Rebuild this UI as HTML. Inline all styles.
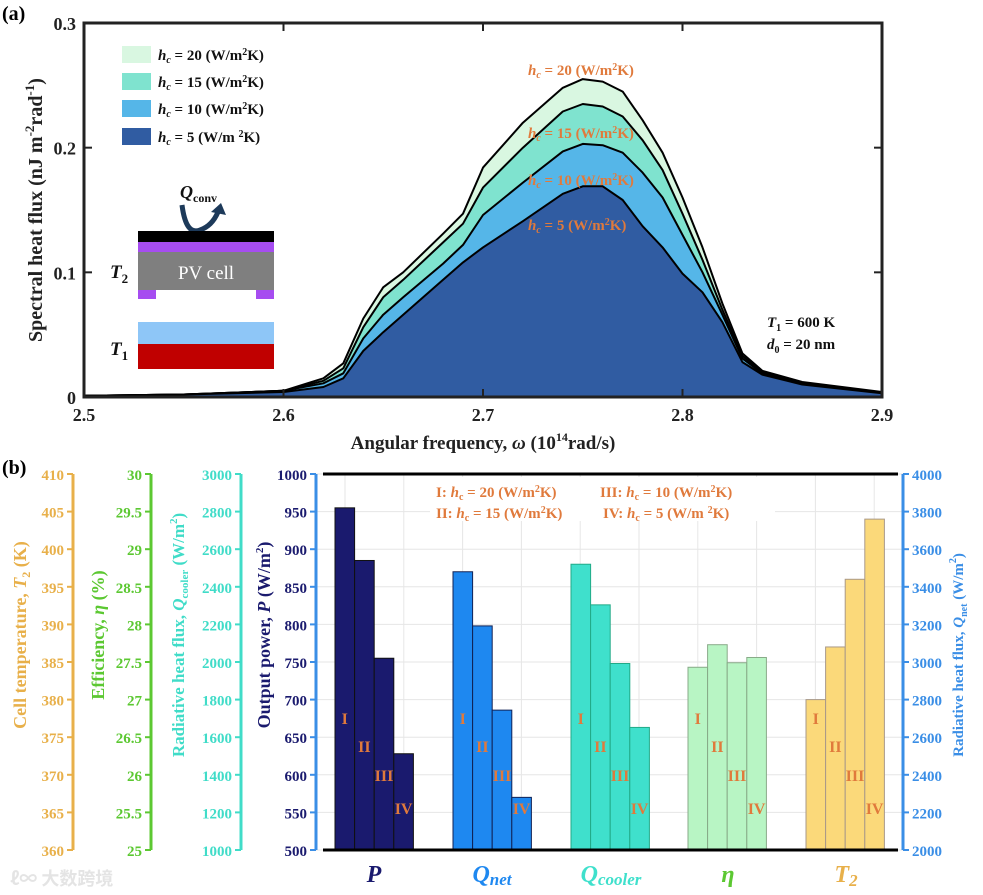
<!DOCTYPE html>
<html><head><meta charset="utf-8">
<style>
html,body{margin:0;padding:0;background:#fff;}
svg{display:block;font-family:"Liberation Serif","Noto Serif CJK SC",serif;font-weight:bold;}
</style></head>
<body>
<svg id="fig" width="983" height="895" viewBox="0 0 983 895" xmlns="http://www.w3.org/2000/svg">
<text x="2" y="20" font-size="20">(a)</text>
<text x="2" y="474" font-size="20">(b)</text>
<g id="topchart"></g>
<g id="botchart"></g>
<text x="10" y="885" font-size="18" fill="#e4e4e4" font-family="'Noto Sans CJK SC',sans-serif">ℓ∞ 大数跨境</text>
</svg>
<script>
// ---------- Panel (a) data ----------
const omega = [2.5,2.55,2.6,2.62,2.63,2.64,2.65,2.66,2.68,2.69,2.70,2.72,2.74,2.75,2.76,2.77,2.78,2.79,2.80,2.81,2.82,2.83,2.84,2.86,2.9];
const flux5  = [0.001,0.002,0.004,0.008,0.015,0.037,0.052,0.066,0.094,0.108,0.12,0.141,0.163,0.169,0.169,0.158,0.137,0.12,0.099,0.084,0.06,0.028,0.018,0.010,0.003];
const flux10 = [0.001,0.002,0.005,0.011,0.019,0.047,0.066,0.080,0.107,0.122,0.146,0.172,0.197,0.203,0.202,0.196,0.18,0.16,0.13,0.1,0.066,0.031,0.019,0.011,0.003];
const flux15 = [0.001,0.002,0.005,0.013,0.023,0.056,0.080,0.094,0.124,0.139,0.168,0.20,0.229,0.235,0.233,0.225,0.206,0.182,0.147,0.11,0.07,0.033,0.02,0.011,0.003];
const flux20 = [0.001,0.002,0.005,0.015,0.027,0.063,0.088,0.100,0.131,0.147,0.184,0.22,0.248,0.255,0.253,0.245,0.222,0.196,0.16,0.12,0.075,0.035,0.021,0.012,0.004];
const xTicks = [2.5,2.6,2.7,2.8,2.9];
const yTicks = [0,0.1,0.2,0.3];

// ---------- Panel (b) data ----------
const categories = ["P","Qnet","Qcooler","eta","T2"];
const caseLabels = ["I","II","III","IV"];
const powerP   = [955,885,755,628];
const qNet     = [3480,3192,2744,2280];
const qCooler  = [2520,2304,1992,1652];
const effEta   = [27.43,27.73,27.49,27.56];
const tempT2   = [380,387,396,404];
const pTicks   = [500,550,600,650,700,750,800,850,900,950,1000];
const qnetTicks= [2000,2200,2400,2600,2800,3000,3200,3400,3600,3800,4000];
const qcTicks  = [1000,1200,1400,1600,1800,2000,2200,2400,2600,2800,3000];
const etaTicks = ["25","25.5","26","26.5","27","27.5","28","28.5","29","29.5","30"];
const t2Ticks  = [360,365,370,375,380,385,390,395,400,405,410];

const NS="http://www.w3.org/2000/svg";
function mk(tag, attrs, parent, txt){
  const e=document.createElementNS(NS,tag);
  for(const k in attrs) e.setAttribute(k,attrs[k]);
  if(txt!==undefined) e.textContent=txt;
  parent.appendChild(e); return e;
}
const topG=document.getElementById('topchart');
const botG=document.getElementById('botchart');

// ===== Panel (a) =====
const L=84,R=882,T=23,B=397;
const xs=v=>L+(v-2.5)/0.4*(R-L);
const ys=v=>B-v/0.3*(B-T);
const series=[[flux20,"#d9f7e1"],[flux15,"#7fe3cf"],[flux10,"#55b6e8"],[flux5,"#305ca2"]];
const snames=['area-hc20','area-hc15','area-hc10','area-hc5'];
series.forEach((s,i)=>{
  let d="M"+xs(omega[0])+","+ys(0);
  omega.forEach((w,j)=>{d+=" L"+xs(w).toFixed(1)+","+ys(s[0][j]).toFixed(1);});
  d+=" L"+xs(omega[omega.length-1])+","+ys(0)+" Z";
  const a=mk('path',{d:d,fill:s[1],stroke:'none'},topG);
  
  
  let d2="";
  omega.forEach((w,j)=>{d2+=(j?" L":"M")+xs(w).toFixed(1)+","+ys(s[0][j]).toFixed(1);});
  const l=mk('path',{d:d2,fill:'none',stroke:'#000','stroke-width':2,'stroke-linejoin':'round'},topG);
  
  
});
const frame=mk('rect',{x:L,y:T,width:R-L,height:B-T,fill:'none',stroke:'#222','stroke-width':3},topG);


xTicks.forEach(v=>{
  const x=xs(v);
  mk('line',{x1:x,y1:B,x2:x,y2:B-8,stroke:'#222','stroke-width':2},topG);
  mk('line',{x1:x,y1:T,x2:x,y2:T+8,stroke:'#222','stroke-width':2},topG);
  const t=mk('text',{x:x,y:B+24,'font-size':18,'text-anchor':'middle',fill:'#222'},topG,v.toFixed(1));
  
  
});
yTicks.forEach(v=>{
  const y=ys(v);
  mk('line',{x1:L,y1:y,x2:L+8,y2:y,stroke:'#222','stroke-width':2},topG);
  mk('line',{x1:R,y1:y,x2:R-8,y2:y,stroke:'#222','stroke-width':2},topG);
  const t=mk('text',{x:L-8,y:y+7,'font-size':18,'text-anchor':'end',fill:'#222'},topG,v===0?"0":v.toFixed(1));
  
  
});

topG.insertAdjacentHTML('beforeend',`
<text x="483" y="449" font-size="19" text-anchor="middle" fill="#222">Angular frequency, <tspan font-style="italic">ω</tspan> (10<tspan font-size="12" dy="-8">14</tspan><tspan dy="8">rad/s)</tspan></text>
<text transform="translate(42,210) rotate(-90)" font-size="20" text-anchor="middle" fill="#222">Spectral heat flux (nJ m<tspan font-size="13" dy="-8">-2</tspan><tspan dy="8">rad</tspan><tspan font-size="13" dy="-8">-1</tspan><tspan dy="8">)</tspan></text>
<g font-size="15" fill="#111">
<rect x="122" y="46" width="29" height="17" fill="#d9f7e1"/><text x="158" y="60"><tspan font-style="italic">h<tspan font-size="10" dy="3">c</tspan></tspan><tspan dy="-3"> = 20 (W/m</tspan><tspan font-size="10" dy="-5">2</tspan><tspan dy="5">K)</tspan></text>
<rect x="122" y="73" width="29" height="17" fill="#7fe3cf"/><text x="158" y="87"><tspan font-style="italic">h<tspan font-size="10" dy="3">c</tspan></tspan><tspan dy="-3"> = 15 (W/m</tspan><tspan font-size="10" dy="-5">2</tspan><tspan dy="5">K)</tspan></text>
<rect x="122" y="100" width="29" height="17" fill="#55b6e8"/><text x="158" y="114"><tspan font-style="italic">h<tspan font-size="10" dy="3">c</tspan></tspan><tspan dy="-3"> = 10 (W/m</tspan><tspan font-size="10" dy="-5">2</tspan><tspan dy="5">K)</tspan></text>
<rect x="122" y="128" width="29" height="17" fill="#305ca2"/><text x="158" y="142"><tspan font-style="italic">h<tspan font-size="10" dy="3">c</tspan></tspan><tspan dy="-3"> = 5 (W/m  </tspan><tspan font-size="10" dy="-5">2</tspan><tspan dy="5">K)</tspan></text>
</g>
<g>
<text x="180" y="198" font-size="18" font-style="italic" fill="#111">Q<tspan font-size="12" font-style="normal" dy="4">conv</tspan></text>
<path d="M182,205 Q186,236 200,230 Q212,226 218,212" fill="none" stroke="#1d3a5a" stroke-width="5"/>
<path d="M211,212 L221,203 L226,215 Z" fill="#1d3a5a"/>
<rect x="138" y="231" width="136" height="11" fill="#000"/>
<rect x="138" y="242" width="136" height="10" fill="#a64df0"/>
<rect x="138" y="252" width="136" height="38" fill="#7f7f7f"/>
<text x="206" y="279" font-size="19" font-weight="normal" fill="#fff" text-anchor="middle">PV cell</text>
<rect x="138" y="290" width="18" height="9" fill="#a64df0"/>
<rect x="256" y="290" width="18" height="9" fill="#a64df0"/>
<text x="110" y="278" font-size="19" font-style="italic" fill="#111">T<tspan font-size="13" font-style="normal" dy="5">2</tspan></text>
<rect x="138" y="322" width="136" height="22" fill="#8ec6f7"/>
<rect x="138" y="344" width="136" height="25" fill="#c00000"/>
<text x="110" y="355" font-size="19" font-style="italic" fill="#111">T<tspan font-size="13" font-style="normal" dy="5">1</tspan></text>
</g>
<g font-size="15" fill="#e07a3c">
<text x="528" y="75"><tspan font-style="italic">h<tspan font-size="10" dy="3">c</tspan></tspan><tspan dy="-3"> = 20 (W/m</tspan><tspan font-size="10" dy="-5">2</tspan><tspan dy="5">K)</tspan></text>
<text x="528" y="138"><tspan font-style="italic">h<tspan font-size="10" dy="3">c</tspan></tspan><tspan dy="-3"> = 15 (W/m</tspan><tspan font-size="10" dy="-5">2</tspan><tspan dy="5">K)</tspan></text>
<text x="528" y="185"><tspan font-style="italic">h<tspan font-size="10" dy="3">c</tspan></tspan><tspan dy="-3"> = 10 (W/m</tspan><tspan font-size="10" dy="-5">2</tspan><tspan dy="5">K)</tspan></text>
<text x="528" y="230"><tspan font-style="italic">h<tspan font-size="10" dy="3">c</tspan></tspan><tspan dy="-3"> = 5 (W/m</tspan><tspan font-size="10" dy="-5">2</tspan><tspan dy="5">K)</tspan></text>
</g>
<g font-size="15" fill="#111">
<text x="767" y="327"><tspan font-style="italic">T</tspan><tspan font-size="10" dy="4">1</tspan><tspan dy="-4"> = 600 K</tspan></text>
<text x="767" y="349"><tspan font-style="italic">d</tspan><tspan font-size="10" dy="4">0</tspan><tspan dy="-4"> = 20 nm</tspan></text>
</g>`);

// ===== Panel (b) =====
const PL=316,PR=903,PT=474,PB=850;
const yP=v=>PB-(v-500)/500*(PB-PT);
const yQn=v=>PB-(v-2000)/2000*(PB-PT);
const yQc=v=>PB-(v-1000)/2000*(PB-PT);
const yE=v=>PB-(v-25)/5*(PB-PT);
const yT=v=>PB-(v-360)/50*(PB-PT);
for(let i=0;i<=10;i++){
  const y=PT+i*(PB-PT)/10;
  mk('line',{x1:PL,y1:y,x2:PR,y2:y,stroke:'#e6e6e6','stroke-width':1},botG);
}
for(let i=0;i<10;i++){
  const x=345+i*58.8;
  mk('line',{x1:x,y1:PT,x2:x,y2:PB,stroke:'#e6e6e6','stroke-width':1},botG);
}
mk('rect',{x:430,y:477,width:345,height:44,fill:'#fff'},botG);
const groupStart=[335,453,571,688,806];
const bw=19.6;
const groups=[
  [powerP,yP,'#1a1a6e','#111'],
  [qNet,yQn,'#1e88f0','#125'],
  [qCooler,yQc,'#3fe0cc','#2a8'],
  [effEta,yE,'#b8f5c4','#8a8'],
  [tempT2,yT,'#fbd97a','#a98']
];
const labelY=[724,752,781,814];
groups.forEach((g,gi)=>{
  g[0].forEach((v,i)=>{
    const x=groupStart[gi]+i*bw;
    const y=g[1](v);
    const r=mk('rect',{x:x,y:y,width:bw,height:PB-y,fill:g[2],stroke:g[3],'stroke-width':1},botG);
    
    
    const t=mk('text',{x:x+bw/2,y:labelY[i],'font-size':16,'text-anchor':'middle',fill:'#e07a3c'},botG,caseLabels[i]);
    
    
  });
});
mk('line',{x1:323,y1:PT,x2:898,y2:PT,stroke:'#000','stroke-width':3},botG);
mk('line',{x1:323,y1:PB,x2:898,y2:PB,stroke:'#000','stroke-width':3},botG);
function axis(x,ticks,scale,color,lblColor,side,name){
  const g=mk('g',{},botG);
  
  
  mk('line',{x1:x,y1:PT,x2:x,y2:PB,stroke:color,'stroke-width':3},g);
  ticks.forEach(t=>{
    const y=scale(parseFloat(t));
    const d=side==='left'?-6:6;
    mk('line',{x1:x,y1:y,x2:x+d,y2:y,stroke:color,'stroke-width':2},g);
    mk('text',{x:side==='left'?x-9:x+9,y:y+6,'font-size':15,'text-anchor':side==='left'?'end':'start',fill:lblColor},g,String(t));
  });
}
axis(73,t2Ticks,yT,'#e8b04a','#e8b04a','left','t2-axis');
axis(151,etaTicks,yE,'#5cc832','#5cc832','left','eta-axis');
axis(241,qcTicks,yQc,'#40dcc8','#40dcc8','left','qcooler-axis');
axis(PL,pTicks,yP,'#3a8ee6','#1a1a6e','left','power-axis');
axis(PR,qnetTicks,yQn,'#3a8ee6','#3a8ee6','right','qnet-axis');
botG.insertAdjacentHTML('beforeend',`
<text transform="translate(26,635) rotate(-90)" font-size="18" text-anchor="middle" fill="#e8b04a">Cell temperature, <tspan font-style="italic">T</tspan><tspan font-size="12" dy="4">2</tspan><tspan dy="-4"> (K)</tspan></text>
<text transform="translate(104,635) rotate(-90)" font-size="18" text-anchor="middle" fill="#5cc832">Efficiency, <tspan font-style="italic">η</tspan> (%)</text>
<text transform="translate(184,635) rotate(-90)" font-size="17" text-anchor="middle" fill="#40dcc8">Radiative heat flux, <tspan font-style="italic">Q</tspan><tspan font-size="11" dy="4">cooler</tspan><tspan dy="-4"> (W/m</tspan><tspan font-size="11" dy="-7">2</tspan><tspan dy="7">)</tspan></text>
<text transform="translate(270,635) rotate(-90)" font-size="18" text-anchor="middle" fill="#1a1a6e">Output power, <tspan font-style="italic">P</tspan> (W/m<tspan font-size="11" dy="-7">2</tspan><tspan dy="7">)</tspan></text>
<text transform="translate(963,655) rotate(-90)" font-size="15" text-anchor="middle" fill="#3a8ee6">Radiative heat flux, <tspan font-style="italic">Q</tspan><tspan font-size="10" dy="4">net</tspan><tspan dy="-4"> (W/m</tspan><tspan font-size="10" dy="-7">2</tspan><tspan dy="7">)</tspan></text>
<g font-size="15" fill="#e07a3c">
<text x="436" y="497">I: <tspan font-style="italic">h</tspan><tspan font-size="10" dy="3">c</tspan><tspan dy="-3"> = 20 (W/m</tspan><tspan font-size="10" dy="-5">2</tspan><tspan dy="5">K)</tspan></text>
<text x="600" y="497">III: <tspan font-style="italic">h</tspan><tspan font-size="10" dy="3">c</tspan><tspan dy="-3"> = 10 (W/m</tspan><tspan font-size="10" dy="-5">2</tspan><tspan dy="5">K)</tspan></text>
<text x="436" y="518">II: <tspan font-style="italic">h</tspan><tspan font-size="10" dy="3">c</tspan><tspan dy="-3"> = 15 (W/m</tspan><tspan font-size="10" dy="-5">2</tspan><tspan dy="5">K)</tspan></text>
<text x="603" y="518">IV: <tspan font-style="italic">h</tspan><tspan font-size="10" dy="3">c</tspan><tspan dy="-3"> = 5 (W/m </tspan><tspan font-size="10" dy="-5">2</tspan><tspan dy="5">K)</tspan></text>
</g>
<g font-size="24" font-style="italic" text-anchor="middle">
<text x="374" y="882" fill="#1a1a6e">P</text>
<text x="492" y="882" fill="#1e88f0">Q<tspan font-size="17" dy="3">net</tspan></text>
<text x="611" y="882" fill="#3fe0cc">Q<tspan font-size="17" dy="3">cooler</tspan></text>
<text x="728" y="882" fill="#5cc832">η</text>
<text x="846" y="882" fill="#e8b04a">T<tspan font-size="17" dy="4">2</tspan></text>
</g>`);
</script>
</body></html>
